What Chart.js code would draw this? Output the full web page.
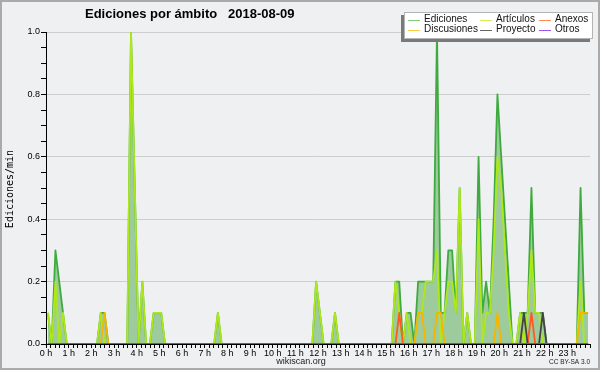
<!DOCTYPE html>
<html>
<head>
<meta charset="utf-8">
<script src="https://cdn.jsdelivr.net/npm/chart.js@4/dist/chart.umd.min.js"></script>
<style>
  html, body { margin: 0; padding: 0; background: #eff0f1; }
  canvas { display: block; }
</style>
</head>
<body>
<canvas id="chart" width="600" height="370"></canvas>
<script>
// 10-minute bins, edits per minute (one row = 2 hours), plotted at bin middle
const binMinutes = 10;

const ediciones = [
  0.1, 0, 0.3, 0.2, 0.1, 0, 0, 0, 0, 0, 0, 0,
  0, 0, 0.1, 0.1, 0, 0, 0, 0, 0, 0, 1.0, 0.5,
  0, 0.2, 0, 0, 0.1, 0.1, 0.1, 0, 0, 0, 0, 0,
  0, 0, 0, 0, 0, 0, 0, 0, 0, 0.1, 0, 0,
  0, 0, 0, 0, 0, 0, 0, 0, 0, 0, 0, 0,
  0, 0, 0, 0, 0, 0, 0, 0, 0, 0, 0, 0.2,
  0.1, 0, 0, 0, 0.1, 0, 0, 0, 0, 0, 0, 0,
  0, 0, 0, 0, 0, 0, 0, 0, 0.2, 0.2, 0, 0.1,
  0.1, 0, 0.2, 0.2, 0.2, 0.2, 0.2, 1.0, 0.1, 0.1, 0.3, 0.3,
  0.1, 0.5, 0, 0.1, 0, 0, 0.6, 0.1, 0.2, 0.1, 0.4, 0.8,
  0.6, 0.4, 0.2, 0, 0, 0.1, 0.1, 0.1, 0.5, 0.1, 0.1, 0.1,
  0, 0, 0, 0, 0, 0, 0, 0, 0, 0.5, 0.1, 0.1
];

const articulos = [
  0.1, 0, 0.2, 0, 0.1, 0, 0, 0, 0, 0, 0, 0,
  0, 0, 0.1, 0, 0, 0, 0, 0, 0, 0, 1.0, 0.5,
  0, 0.2, 0, 0, 0.1, 0.1, 0.1, 0, 0, 0, 0, 0,
  0, 0, 0, 0, 0, 0, 0, 0, 0, 0.1, 0, 0,
  0, 0, 0, 0, 0, 0, 0, 0, 0, 0, 0, 0,
  0, 0, 0, 0, 0, 0, 0, 0, 0, 0, 0, 0.2,
  0.1, 0, 0, 0, 0.1, 0, 0, 0, 0, 0, 0, 0,
  0, 0, 0, 0, 0, 0, 0, 0, 0.2, 0.1, 0, 0.1,
  0, 0, 0.1, 0.1, 0.2, 0.2, 0.2, 0.3, 0, 0.1, 0.2, 0.2,
  0.1, 0.5, 0, 0.1, 0, 0, 0.4, 0, 0.1, 0.1, 0.3, 0.6,
  0.5, 0.3, 0.1, 0, 0, 0.1, 0, 0.1, 0.3, 0.1, 0.1, 0,
  0, 0, 0, 0, 0, 0, 0, 0, 0, 0.2, 0, 0
];

const discusiones = [
  0, 0, 0, 0, 0, 0, 0, 0, 0, 0, 0, 0,
  0, 0, 0, 0.1, 0, 0, 0, 0, 0, 0, 0, 0,
  0, 0, 0, 0, 0, 0, 0, 0, 0, 0, 0, 0,
  0, 0, 0, 0, 0, 0, 0, 0, 0, 0, 0, 0,
  0, 0, 0, 0, 0, 0, 0, 0, 0, 0, 0, 0,
  0, 0, 0, 0, 0, 0, 0, 0, 0, 0, 0, 0,
  0, 0, 0, 0, 0, 0, 0, 0, 0, 0, 0, 0,
  0, 0, 0, 0, 0, 0, 0, 0, 0, 0, 0, 0,
  0, 0, 0.1, 0.1, 0, 0, 0, 0.1, 0.1, 0, 0, 0,
  0, 0, 0, 0, 0, 0, 0, 0, 0, 0, 0, 0.1,
  0, 0, 0, 0, 0, 0, 0, 0, 0, 0, 0, 0,
  0, 0, 0, 0, 0, 0, 0, 0, 0, 0.1, 0.1, 0.1
];

const anexos = [
  0, 0, 0, 0, 0, 0, 0, 0, 0, 0, 0, 0,
  0, 0, 0, 0, 0, 0, 0, 0, 0, 0, 0, 0,
  0, 0, 0, 0, 0, 0, 0, 0, 0, 0, 0, 0,
  0, 0, 0, 0, 0, 0, 0, 0, 0, 0, 0, 0,
  0, 0, 0, 0, 0, 0, 0, 0, 0, 0, 0, 0,
  0, 0, 0, 0, 0, 0, 0, 0, 0, 0, 0, 0,
  0, 0, 0, 0, 0, 0, 0, 0, 0, 0, 0, 0,
  0, 0, 0, 0, 0, 0, 0, 0, 0, 0.1, 0, 0,
  0, 0, 0, 0, 0, 0, 0, 0, 0, 0, 0, 0,
  0, 0, 0, 0, 0, 0, 0, 0, 0, 0, 0, 0,
  0, 0, 0, 0, 0, 0, 0, 0, 0.1, 0, 0, 0,
  0, 0, 0, 0, 0, 0, 0, 0, 0, 0, 0, 0
];

const proyecto = [
  0, 0, 0, 0, 0, 0, 0, 0, 0, 0, 0, 0,
  0, 0, 0, 0, 0, 0, 0, 0, 0, 0, 0, 0,
  0, 0, 0, 0, 0, 0, 0, 0, 0, 0, 0, 0,
  0, 0, 0, 0, 0, 0, 0, 0, 0, 0, 0, 0,
  0, 0, 0, 0, 0, 0, 0, 0, 0, 0, 0, 0,
  0, 0, 0, 0, 0, 0, 0, 0, 0, 0, 0, 0,
  0, 0, 0, 0, 0, 0, 0, 0, 0, 0, 0, 0,
  0, 0, 0, 0, 0, 0, 0, 0, 0, 0, 0, 0,
  0, 0, 0, 0, 0, 0, 0, 0, 0, 0, 0, 0,
  0, 0, 0, 0, 0, 0, 0, 0, 0, 0, 0, 0,
  0, 0, 0, 0, 0, 0, 0.1, 0, 0, 0, 0, 0.1,
  0, 0, 0, 0, 0, 0, 0, 0, 0, 0, 0, 0
];

const otros = new Array(144).fill(0);

const yTicks = [0, 0.2, 0.4, 0.6, 0.8, 1.0];

const legendItems = [
  { label: "Ediciones", color: "#7fcc7f" },
  { label: "Artículos", color: "#d4ee55" },
  { label: "Anexos", color: "#ff8a55" },
  { label: "Discusiones", color: "#ffcc44" },
  { label: "Proyecto", color: "#666666" },
  { label: "Otros", color: "#9955ee" }
];

const toPoints = arr => arr.map((v, i) => ({ x: i * binMinutes + binMinutes / 2, y: v }));

function lineSet(label, values, color, order, extra) {
  return Object.assign({
    label: label,
    data: toPoints(values),
    borderColor: color,
    borderWidth: 1.8,
    borderJoinStyle: "round",
    pointRadius: 0,
    tension: 0,
    fill: false,
    order: order
  }, extra || {});
}

const isLabelled = v => yTicks.some(t => Math.abs(t - v) < 1e-6);

// Title, legend box, axis title, footer and frame
const decorations = {
  id: "decorations",
  beforeDraw(chart) {
    const c = chart.ctx;
    c.save();
    c.fillStyle = "#eff0f1";
    c.fillRect(0, 0, chart.width, chart.height);
    c.restore();
  },
  afterDraw(chart) {
    const c = chart.ctx;
    c.save();

    // title
    c.fillStyle = "#000";
    c.font = "bold 13px 'Liberation Sans', Arial, sans-serif";
    c.textBaseline = "middle";
    c.textAlign = "left";
    c.fillText("Ediciones por ámbito   2018-08-09", 85, 14);

    // legend box with shadow
    c.fillStyle = "#7a7a7a";
    c.fillRect(401, 15, 189, 27);
    c.fillStyle = "#ffffff";
    c.fillRect(404, 12, 189, 27);
    c.strokeStyle = "#b4b4b4";
    c.lineWidth = 1;
    c.strokeRect(404.5, 12.5, 188, 26);

    const cols = [[408, 424], [480, 496], [539, 555]];
    const rows = [19.5, 29.5];
    c.font = "10px 'Liberation Sans', Arial, sans-serif";
    legendItems.forEach((it, i) => {
      const col = cols[i % 3];
      const y = rows[Math.floor(i / 3)];
      c.strokeStyle = it.color;
      c.lineWidth = 1;
      c.beginPath();
      c.moveTo(col[0], Math.round(y) + 0.5);
      c.lineTo(col[0] + 12, Math.round(y) + 0.5);
      c.stroke();
      c.fillStyle = "#111";
      c.fillText(it.label, col[1], y);
    });

    // y axis title
    c.save();
    c.translate(10, 189);
    c.rotate(-Math.PI / 2);
    c.textAlign = "center";
    c.font = "10px 'DejaVu Sans Mono', monospace";
    c.fillStyle = "#000";
    c.fillText("Ediciones/min", 0, 0);
    c.restore();

    // footer
    c.fillStyle = "#222";
    c.textAlign = "center";
    c.font = "9px 'Liberation Sans', Arial, sans-serif";
    c.fillText("wikiscan.org", 301, 362);
    c.textAlign = "right";
    c.font = "6.5px 'Liberation Sans', Arial, sans-serif";
    c.fillText("CC BY-SA 3.0", 590, 362);

    // frame
    c.strokeStyle = "#aaaaaa";
    c.lineWidth = 2;
    c.strokeRect(1, 1, chart.width - 2, chart.height - 2);
    c.restore();
  }
};

const ctx = document.getElementById("chart").getContext("2d");

new Chart(ctx, {
  type: "line",
  data: {
    datasets: [
      lineSet("Ediciones", ediciones, "#3faa3f", 6, { fill: "origin", backgroundColor: "#9dcb9d" }),
      lineSet("Artículos", articulos, "#aee81a", 5),
      lineSet("Discusiones", discusiones, "#f7b500", 4),
      lineSet("Anexos", anexos, "#ff5a1f", 3),
      lineSet("Proyecto", proyecto, "#444444", 2),
      lineSet("Otros", otros, "#9933ee", 1)
    ]
  },
  options: {
    responsive: false,
    animation: false,
    events: [],
    layout: { padding: { top: 32, right: 10, left: 0, bottom: 0 } },
    plugins: {
      legend: { display: false },
      title: { display: false },
      tooltip: { enabled: false }
    },
    scales: {
      x: {
        type: "linear",
        min: 0,
        max: 1440,
        afterFit: s => { s.height = 26; },
        border: { color: "#000", width: 1 },
        grid: { drawOnChartArea: false, color: "#000", tickLength: 4 },
        ticks: {
          stepSize: 12,
          autoSkip: false,
          maxRotation: 0,
          padding: 0,
          color: "#000",
          font: { family: "'Liberation Sans', Arial, sans-serif", size: 9 },
          callback: v => (v % 60 === 0 && v < 1440) ? (v / 60) + " h" : ""
        }
      },
      y: {
        min: 0,
        max: 1,
        afterFit: s => { s.width = 46; },
        border: { color: "#000", width: 1 },
        grid: {
          color: c => (c.tick && isLabelled(c.tick.value)) ? "#cdcdcd" : "rgba(0,0,0,0)",
          tickColor: "#000",
          tickLength: 5
        },
        ticks: {
          stepSize: 0.05,
          autoSkip: false,
          padding: 1,
          color: "#000",
          font: { family: "'Liberation Sans', Arial, sans-serif", size: 9 },
          callback: v => isLabelled(v) ? v.toFixed(1) : ""
        }
      }
    }
  },
  plugins: [decorations]
});
</script>
</body>
</html>
